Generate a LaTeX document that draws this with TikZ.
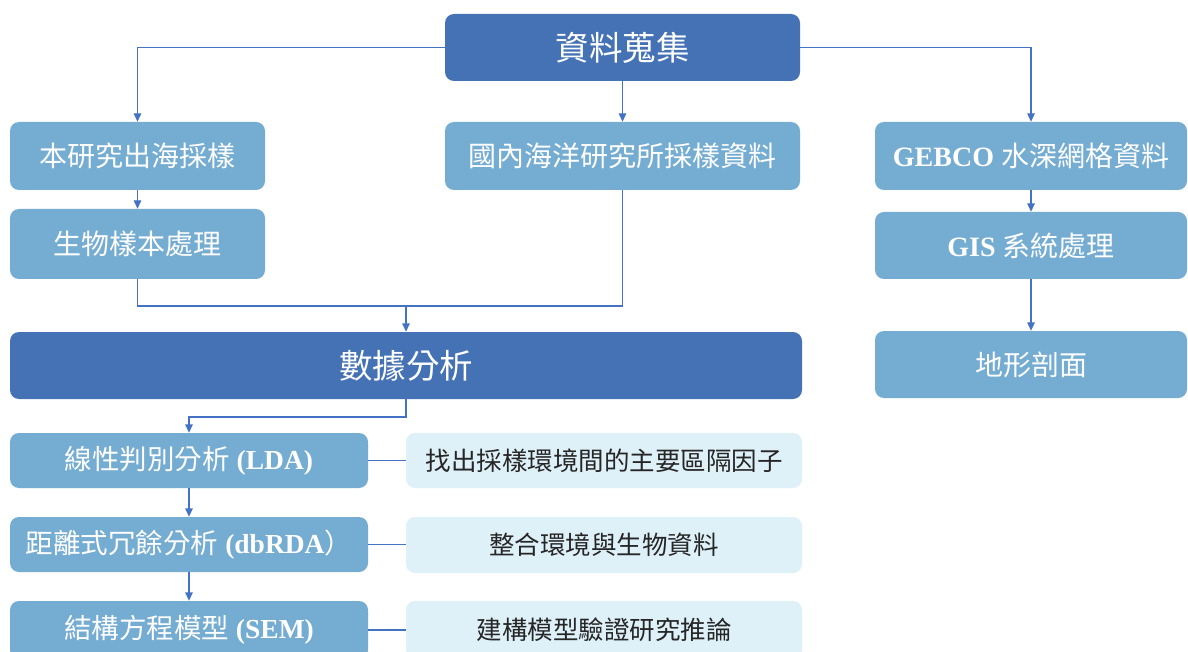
\documentclass[tikz,border=0pt]{standalone}
\usepackage{fontspec}
\setmainfont{Liberation Serif}
\newfontfamily\cjk{Noto Sans CJK TC}
\usetikzlibrary{arrows.meta}
\newcommand\zh[1]{{\cjk #1}}
\definecolor{dkblue}{RGB}{68,114,180}
\definecolor{mdblue}{RGB}{117,172,210}
\definecolor{ltblue}{RGB}{223,241,248}
\definecolor{lnblue}{RGB}{68,114,196}
\definecolor{dtext}{RGB}{38,38,38}
\tikzset{
  boxbase/.style={rounded corners=9pt, inner sep=0pt, align=center},
  darkbox/.style={boxbase, fill=dkblue, text=white, font=\fontsize{33.5}{36}\selectfont},
  midbox/.style={boxbase, fill=mdblue, text=white, font=\fontsize{28}{30}\selectfont},
  lowbox/.style={boxbase, fill=mdblue, text=white, font=\fontsize{27.5}{30}\selectfont},
  litebox/.style={boxbase, fill=ltblue, text=dtext, font=\fontsize{25.5}{28}\selectfont},
  conn/.style={draw=lnblue, line width=1.4pt},
  arr/.style={conn, -{Triangle[length=8.5pt,width=7.5pt]}}
}
\begin{document}
\begin{tikzpicture}[x=1pt,y=-1pt]
\clip (0,0) rectangle (1188,652);
\fill[white] (0,0) rectangle (1188,652);
% top
\node[darkbox, minimum width=355pt, minimum height=67pt] (col) at (622.5,47.5) {\zh{資料蒐集}};
\node[midbox, minimum width=255pt, minimum height=68pt] (s1) at (137.5,156) {\zh{本研究出海採樣}};
\node[midbox, minimum width=355pt, minimum height=68pt] (dom) at (622.5,156) {\zh{國內海洋研究所採樣資料}};
\node[midbox, minimum width=312pt, minimum height=68pt] (gebco) at (1031,156) {\textbf{GEBCO} \zh{水深網格資料}};
\node[midbox, minimum width=255pt, minimum height=70pt] (bio) at (137.5,244) {\zh{生物樣本處理}};
\node[midbox, minimum width=312pt, minimum height=67pt] (gis) at (1031,245.5) {\textbf{GIS} \zh{系統處理}};
\node[darkbox, minimum width=792pt, minimum height=67pt] (ana) at (406,365.5) {\zh{數據分析}};
\node[midbox, minimum width=312pt, minimum height=67pt] (topo) at (1031,364.5) {\zh{地形剖面}};
% lower
\node[lowbox, minimum width=358pt, minimum height=55pt] (lda) at (189,460.5) {\zh{線性判別分析} \textbf{(LDA)}};
\node[lowbox, minimum width=358pt, minimum height=55pt] (db) at (189,544.5) {\zh{距離式冗餘分析} \textbf{(dbRDA}\zh{）}};
\node[lowbox, minimum width=358pt, minimum height=58pt] (sem) at (189,630) {\zh{結構方程模型} \textbf{(SEM)}};
\node[litebox, minimum width=396pt, minimum height=55pt] (r1) at (604,460.5) {\zh{找出採樣環境間的主要區隔因子}};
\node[litebox, minimum width=396pt, minimum height=56pt] (r2) at (604,545) {\zh{整合環境與生物資料}};
\node[litebox, minimum width=396pt, minimum height=58pt] (r3) at (604,630) {\zh{建構模型驗證研究推論}};
% connectors
\draw[arr] (col.west) -| (s1.north);
\draw[arr] (col.east) -| (gebco.north);
\draw[arr] (col.south) -- (dom.north);
\draw[arr] (s1.south) -- (bio.north);
\draw[arr] (gebco.south) -- (gis.north);
\draw[arr] (gis.south) -- (topo.north);
\coordinate (j) at (406,306);
\draw[conn] (bio.south) |- (j);
\draw[conn] (dom.south) |- (j);
\draw[arr] (j) -- (ana.north);
\coordinate (k) at (406,417);
\draw[arr] (ana.south) -- (k) -| (lda.north);
\draw[arr] (lda.south) -- (db.north);
\draw[arr] (db.south) -- (sem.north);
\draw[conn] (lda.east) -- (r1.west);
\draw[conn] (db.east) -- (db.east -| r2.west);
\draw[conn] (sem.east) -- (sem.east -| r3.west);
\end{tikzpicture}
\end{document}
